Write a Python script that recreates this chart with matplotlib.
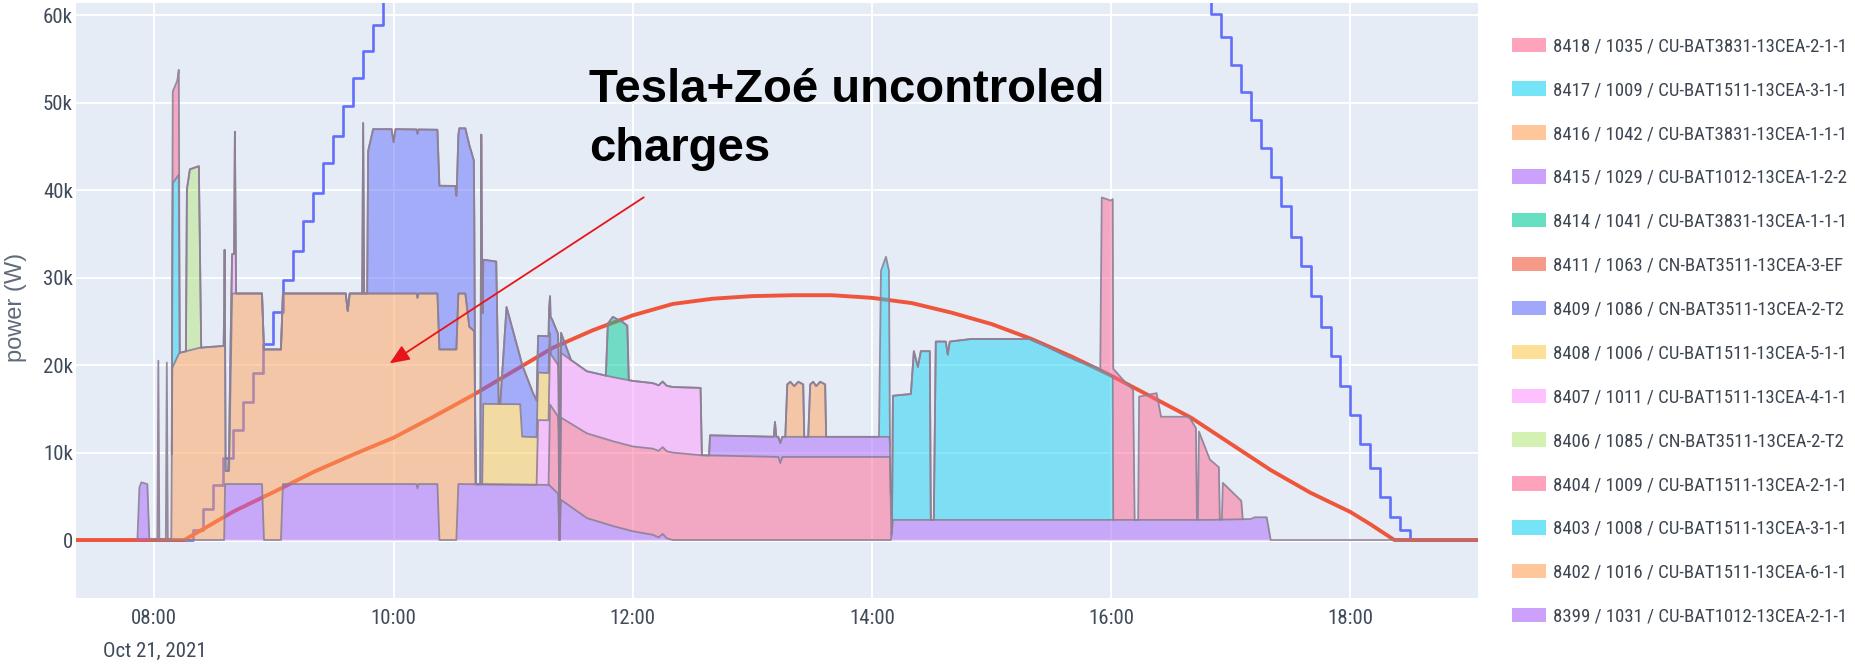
import numpy as np
import pandas as pd
import matplotlib
matplotlib.use("Agg")
import matplotlib.pyplot as plt
import matplotlib.dates as mdates
import matplotlib.transforms as mtransforms
from matplotlib.patches import Patch
from matplotlib import font_manager


DAY = "2021-10-21 "

# ---- stacked charge sessions, bottom to top (legend shows them reversed) ----
labels = [
    "8399 / 1031 / CU-BAT1012-13CEA-2-1-1",
    "8402 / 1016 / CU-BAT1511-13CEA-6-1-1",
    "8403 / 1008 / CU-BAT1511-13CEA-3-1-1",
    "8404 / 1009 / CU-BAT1511-13CEA-2-1-1",
    "8406 / 1085 / CN-BAT3511-13CEA-2-T2",
    "8407 / 1011 / CU-BAT1511-13CEA-4-1-1",
    "8408 / 1006 / CU-BAT1511-13CEA-5-1-1",
    "8409 / 1086 / CN-BAT3511-13CEA-2-T2",
    "8411 / 1063 / CN-BAT3511-13CEA-3-EF",
    "8414 / 1041 / CU-BAT3831-13CEA-1-1-1",
    "8415 / 1029 / CU-BAT1012-13CEA-1-2-2",
    "8416 / 1042 / CU-BAT3831-13CEA-1-1-1",
    "8417 / 1009 / CU-BAT1511-13CEA-3-1-1",
    "8418 / 1035 / CU-BAT3831-13CEA-2-1-1",
]
colors = ["#ab63fa", "#FFA15A", "#19d3f3", "#FF6692", "#B6E880", "#FF97FF", "#FECB52",
          "#636efa", "#EF553B", "#00cc96", "#ab63fa", "#FFA15A", "#19d3f3", "#FF6692"]

t_8399 = ["07:51:30", "07:52:30", "07:53:30", "07:56:30", "07:57:30",
          "08:35:00", "08:35:30", "08:54:00", "08:55:00", "09:03:30", "09:04:30",
          "10:11:30", "10:12:00", "10:12:30", "10:22:00", "10:23:00", "10:31:30", "10:32:30",
          "11:18:00", "11:22:30", "11:23:15", "11:24:00", "11:37:00", "11:50:00", "12:00:00",
          "12:10:00", "12:13:00", "12:15:00", "12:17:00", "12:20:00",
          "14:09:30", "14:10:30", "16:50:00", "17:10:00", "17:12:00", "17:18:00", "17:20:00", "19:03:00"]
p_8399 = [0, 6000, 6600, 6400, 0,
          0, 6400, 6400, 0, 0, 6400,
          6400, 5900, 6400, 6400, 0, 0, 6400,
          6300, 5300, 0, 4600, 2500, 1600, 1000,
          600, 300, 700, 200, 0,
          0, 2300, 2300, 2400, 2600, 2600, 0, 0]

t_8402 = ["08:01:30", "08:02:00", "08:02:30", "08:05:45", "08:06:15", "08:06:45",
          "08:08:30", "08:09:00", "08:12:30", "08:23:00", "08:34:45", "08:35:15", "08:35:45",
          "08:37:30", "08:39:00", "09:36:00", "09:37:00", "09:38:00", "10:36:00",
          "10:38:00", "10:40:30", "10:41:15"]
p_8402 = [0, 20500, 0, 0, 20300, 0,
          0, 19700, 21400, 22000, 22200, 30000, 1500,
          1500, 21800, 21800, 19800, 21800, 21800,
          18000, 17500, 0]

t_8403 = ["14:10:00", "14:10:30", "14:19:30", "14:21:00", "14:23:00", "14:24:30", "14:29:00",
          "14:29:30", "14:31:00", "14:32:00", "14:37:00", "14:38:00", "14:39:00", "14:50:00",
          "15:19:00", "15:28:00", "15:36:00", "15:44:00", "15:52:00", "16:00:45", "16:01:00"]
p_8403 = [0, 14200, 14400, 19300, 17500, 19300, 19300,
          0, 0, 20400, 20400, 18900, 20400, 20700,
          20700, 19800, 18900, 18100, 17500, 16400, 0]

t_8404 = ["11:17:45", "11:18:30", "11:21:00", "11:22:45", "11:23:15", "11:24:00", "11:37:00",
          "12:00:00", "12:20:00", "12:34:00", "13:13:00", "13:14:00", "13:15:00", "14:09:00",
          "14:09:45", "15:54:30", "15:55:15", "15:59:45", "16:00:45", "16:01:00", "16:06:00",
          "16:11:00", "16:11:45", "16:13:30", "16:14:00", "16:22:45", "16:25:00", "16:39:00",
          "16:42:30", "16:43:00", "16:43:30", "16:44:00", "16:49:30", "16:54:00", "16:54:30",
          "16:55:30", "16:56:00", "17:05:15", "17:06:00"]
p_8404 = [0, 9300, 9000, 8800, 0, 9400, 9700,
          9700, 10000, 9700, 9500, 8800, 9500, 9500,
          0, 0, 19800, 20000, 20300, 17300, 16000,
          14900, 0, 0, 14100, 14500, 11800, 11800,
          10500, 0, 0, 10100, 6900, 6000, 0,
          0, 4200, 2100, 0]

t_8406 = ["08:15:50", "08:16:20", "08:17:50", "08:22:20", "08:23:30"]
p_8406 = [0, 18500, 20700, 20800, 0]

t_8407 = ["08:37:00", "08:38:00", "08:40:00", "08:40:24", "08:41:00",
          "11:11:45", "11:12:30", "11:18:00", "11:18:45", "11:22:45", "11:23:15", "11:24:00",
          "11:37:00", "12:00:00", "12:20:00", "12:34:00", "12:34:40"]
p_8407 = [0, 4500, 4500, 18500, 0,
          0, 7400, 7400, 5900, 5900, 0, 7400,
          7100, 7500, 7500, 7700, 0]

t_8408 = ["10:44:30", "10:45:00", "11:03:30", "11:04:30", "11:18:00", "11:18:45"]
p_8408 = [0, 9200, 9200, 5500, 5400, 0]

t_8409 = ["09:44:15", "09:44:45", "09:45:15", "09:46:45", "09:47:15", "09:49:45", "09:59:00",
          "10:00:00", "10:01:00", "10:31:00", "10:31:45", "10:33:00", "10:36:00", "10:38:00",
          "10:40:15", "10:41:00", "10:43:30", "10:44:00", "10:44:40", "10:51:30", "10:52:45",
          "10:53:30", "10:56:40", "11:03:30", "11:04:30", "11:10:00", "11:11:45", "11:18:00",
          "11:19:30", "11:22:45", "11:23:15", "11:24:00", "11:29:00"]
p_8409 = [0, 19500, 0, 0, 16300, 18800, 18800,
          17300, 18800, 18700, 17000, 18900, 18900, 20800,
          19500, 0, 0, 40000, 16500, 16300, 0,
          0, 11100, 5400, 8200, 5000, 4200, 4200,
          4200, 3500, 0, 2300, 0]

t_8411 = []
p_8411 = []

t_8414 = ["11:46:30", "11:47:30", "11:50:00", "11:55:00", "11:57:15", "11:58:00"]
p_8414 = [0, 6000, 6900, 6500, 6200, 0]

t_8415 = ["12:38:15", "12:38:45", "13:10:45", "13:11:20", "13:12:00", "14:08:45", "14:09:20"]
p_8415 = [0, 2300, 2300, 4000, 2300, 2300, 0]

t_8416 = ["13:16:30", "13:17:30", "13:19:00", "13:21:00", "13:23:00", "13:25:30", "13:26:00",
          "13:28:00", "13:29:00", "13:30:30", "13:32:00", "13:34:00", "13:36:30", "13:37:00"]
p_8416 = [0, 6000, 6300, 5800, 6300, 6000, 0, 0, 6000, 6300, 5800, 6300, 6000, 0]

t_8417 = ["08:08:45", "08:09:15", "08:12:15", "08:12:45",
          "14:03:30", "14:04:30", "14:07:00", "14:08:30", "14:09:00"]
p_8417 = [0, 21000, 20500, 0, 0, 19000, 20600, 19000, 0]

t_8418 = ["08:08:45", "08:09:15", "08:11:30", "08:12:15", "08:12:45"]
p_8418 = [0, 10500, 11000, 12000, 0]

series = [(t_8399, p_8399), (t_8402, p_8402), (t_8403, p_8403), (t_8404, p_8404),
          (t_8406, p_8406), (t_8407, p_8407), (t_8408, p_8408), (t_8409, p_8409),
          (t_8411, p_8411), (t_8414, p_8414), (t_8415, p_8415), (t_8416, p_8416),
          (t_8417, p_8417), (t_8418, p_8418)]

# ---- stepped blue line (goes off the top between the two parts) ----
blue_up_t = ["07:20:00", "08:19:30", "08:24:30", "08:29:30", "08:34:30", "08:39:30", "08:44:30",
             "08:49:30", "08:54:30", "08:59:30", "09:04:30", "09:09:30", "09:14:30", "09:19:30",
             "09:24:30", "09:29:30", "09:34:30", "09:39:30", "09:44:30", "09:49:30", "09:54:30",
             "09:59:30"]
blue_up_p = [0, 1200, 3500, 6300, 9400, 12600, 15800,
             19100, 22400, 26100, 29700, 33100, 36500, 39700,
             43100, 46200, 49600, 52800, 55900, 58900, 62000,
             65000]
blue_down_t = ["16:45:00", "16:50:00", "16:55:00", "17:00:00", "17:05:00", "17:10:00", "17:15:00",
               "17:20:00", "17:25:00", "17:30:00", "17:35:00", "17:40:00", "17:45:00", "17:50:00",
               "17:55:00", "18:00:00", "18:05:00", "18:10:00", "18:15:00", "18:20:00", "18:25:00",
               "18:30:00", "19:03:00"]
blue_down_p = [63500, 60200, 57500, 54300, 51200, 48000, 44800,
               41500, 38200, 34700, 31300, 27900, 24400, 21000,
               17600, 14300, 11000, 8200, 4900, 2600, 1100,
               0, 0]

# ---- red production curve ----
red_t = ["07:20", "08:15", "08:40", "09:00", "09:20", "09:40", "10:00", "10:20", "10:40",
         "11:00", "11:20", "11:40", "12:00", "12:20", "12:40", "13:00", "13:20", "13:40",
         "14:00", "14:20", "14:40", "15:00", "15:20", "15:40", "16:00", "16:20", "16:40",
         "17:00", "17:20", "17:40", "18:00", "18:10", "18:22", "19:03"]
red_p = [0, 0, 3300, 5500, 7800, 9800, 11700, 14100, 16600,
         19300, 22000, 24000, 25700, 27000, 27600, 27900, 28000, 28000,
         27700, 27100, 26000, 24700, 23000, 21000, 18800, 16400, 14000,
         11000, 8000, 5400, 3200, 1800, 0, 0]

xtick_times = ["08:00", "10:00", "12:00", "14:00", "16:00", "18:00"]
ytick_vals = [0, 10000, 20000, 30000, 40000, 50000, 60000]
ytick_labels = ["0", "10k", "20k", "30k", "40k", "50k", "60k"]


def tnum(times):
    return mdates.date2num(pd.to_datetime([DAY + t for t in times]))


# narrow font for the squeezed-looking plotly labels
avail = {f.name for f in font_manager.fontManager.ttflist}
narrow = next((n for n in ["Liberation Sans Narrow", "Roboto Condensed", "Open Sans Condensed"]
               if n in avail), None)
tick_font = narrow if narrow else "Liberation Sans"
tick_size = 15 if narrow else 12
leg_size = 13.5 if narrow else 11
label_col = "#3f4a5a"

fig = plt.figure(figsize=(18.56, 6.66), dpi=100)
ax = fig.add_axes([0.0407, 0.1021, 0.7554, 0.8934])
ax.set_facecolor("#E5ECF6")
for s in ax.spines.values():
    s.set_visible(False)

# lines sit under the semi-transparent areas, like in the plotly figure
ax.plot(tnum(blue_up_t), blue_up_p, drawstyle="steps-post", color="#636efa", lw=1.9, zorder=1.5)
ax.plot(tnum(blue_down_t), blue_down_p, drawstyle="steps-post", color="#636efa", lw=1.9, zorder=1.5)
ax.plot(tnum(red_t), red_p, color="#EF553B", lw=2.8, zorder=1.6)

# ---- stacked areas ----
tt = [tnum(t) if len(t) else np.array([]) for t, p in series]
grid = np.unique(np.concatenate([a for a in tt if len(a)]))
base = np.zeros_like(grid)
for (t, p), x, col in zip(series, tt, colors):
    if len(x) == 0:
        continue
    top = base + np.interp(grid, x, p, left=0, right=0)
    m = (grid >= x[0]) & (grid <= x[-1])
    ax.fill_between(grid[m], base[m], top[m], color=col, alpha=0.5, lw=0, zorder=2)
    ax.plot(grid[m], top[m], color="#8d8096", lw=1.3, alpha=0.9, zorder=3)
    base = top

# axes
ax.set_xlim(tnum(["07:20:28"])[0], tnum(["19:03:46"])[0])
ax.set_ylim(-6635, 61430)
ax.set_xticks(tnum(xtick_times))
ax.set_xticklabels(xtick_times)
ax.set_yticks(ytick_vals)
ax.set_yticklabels(ytick_labels)
ax.tick_params(axis="both", length=0, labelsize=tick_size, labelcolor=label_col)
ax.tick_params(axis="x", pad=8)
ax.tick_params(axis="y", pad=2)
for lab in ax.get_xticklabels() + ax.get_yticklabels():
    lab.set_family(tick_font)
ax.grid(color="white", lw=1.3)
ax.set_axisbelow(True)
ax.axhline(0, color="white", lw=2.2, zorder=0.8)

trans = mtransforms.blended_transform_factory(ax.transData, fig.transFigure)
ax.text(tnum(["08:00"])[0], 0.0225, "Oct 21, 2021", transform=trans, ha="center", va="center",
        fontsize=tick_size, family=tick_font, color=label_col)

ax.set_ylabel("power (W)", fontsize=17, family="Liberation Sans", color="#5f6b7a", va="center")
ax.yaxis.set_label_coords(-0.0425, 0.489)

# ---- annotation ----
ax.text(tnum(["11:38"])[0], 50050, "Tesla+Zoé uncontroled", fontsize=34, fontweight="bold",
        family="Liberation Sans", color="black", va="baseline", zorder=6)
ax.text(tnum(["11:38"])[0], 43300, "charges", fontsize=34, fontweight="bold",
        family="Liberation Sans", color="black", va="baseline", zorder=6)
ax.annotate("", xy=(tnum(["09:58"])[0], 20200), xytext=(tnum(["12:05:30"])[0], 39200),
            arrowprops=dict(arrowstyle="-|>,head_length=0.6,head_width=0.25", color="#e8141b",
                            lw=1.3, mutation_scale=20, shrinkA=0, shrinkB=0), zorder=6)

# ---- legend ----
handles = [Patch(facecolor=c, alpha=0.6, edgecolor="none") for c in colors]
leg = fig.legend(handles[::-1], labels[::-1], loc="upper left",
                 bbox_to_anchor=(0.8145, 0.944), bbox_transform=fig.transFigure,
                 frameon=False, borderpad=0, borderaxespad=0,
                 prop={"family": tick_font, "size": leg_size},
                 handlelength=1.85, handleheight=0.8, handletextpad=0.35, labelspacing=1.38)
for txt in leg.get_texts():
    txt.set_color("#3d4651")

fig.savefig("out.png", dpi=100)
